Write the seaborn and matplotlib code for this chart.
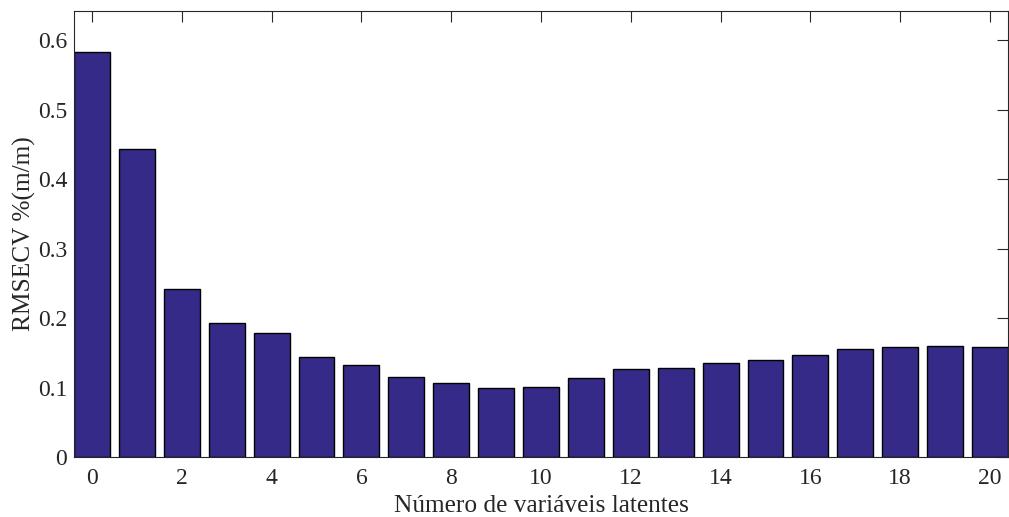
import matplotlib
matplotlib.use("Agg")
import matplotlib.pyplot as plt
import seaborn as sns
import pandas as pd

latent_vars = list(range(21))
rmsecv = [0.583, 0.444, 0.242, 0.193, 0.178, 0.144, 0.132, 0.115, 0.106, 0.100,
          0.101, 0.114, 0.126, 0.128, 0.135, 0.140, 0.147, 0.155, 0.158, 0.160, 0.158]
xtick_vals = list(range(0, 21, 2))
ytick_vals = [0, 0.1, 0.2, 0.3, 0.4, 0.5, 0.6]
ytick_labels = ["0", "0.1", "0.2", "0.3", "0.4", "0.5", "0.6"]

sns.set_style("white")
plt.rcParams['font.family'] = ['Liberation Serif', 'DejaVu Serif']

df = pd.DataFrame({"lv": latent_vars, "rmsecv": rmsecv})

fig = plt.figure(figsize=(10.09, 5.17), dpi=100)
ax = fig.add_axes([74/1009, 1 - 457/517, (1008 - 74)/1009, (457 - 11)/517])

sns.barplot(data=df, x="lv", y="rmsecv", color="#352A87", saturation=1,
            width=0.8, edgecolor="black", linewidth=1.0, ax=ax)

ax.set_xlim(-0.4, 20.4)
ax.set_ylim(0, 0.642)
ax.set_xticks(xtick_vals)
ax.set_xticklabels([str(v) for v in xtick_vals])
ax.set_yticks(ytick_vals)
ax.set_yticklabels(ytick_labels)

ax.tick_params(direction="in", top=True, right=True, length=8, width=0.8,
               labelsize=17, colors="#262626")
ax.tick_params(axis="x", pad=8)
ax.tick_params(axis="y", pad=5)
for s in ax.spines.values():
    s.set_visible(True)
    s.set_linewidth(0.8)
    s.set_color("#262626")

ax.set_xlabel("Número de variáveis latentes", fontsize=18.3, color="#262626", labelpad=4)
ax.set_ylabel("RMSECV %(m/m)", fontsize=18.3, color="#262626", labelpad=1.5)

fig.savefig("out.png", dpi=100)
